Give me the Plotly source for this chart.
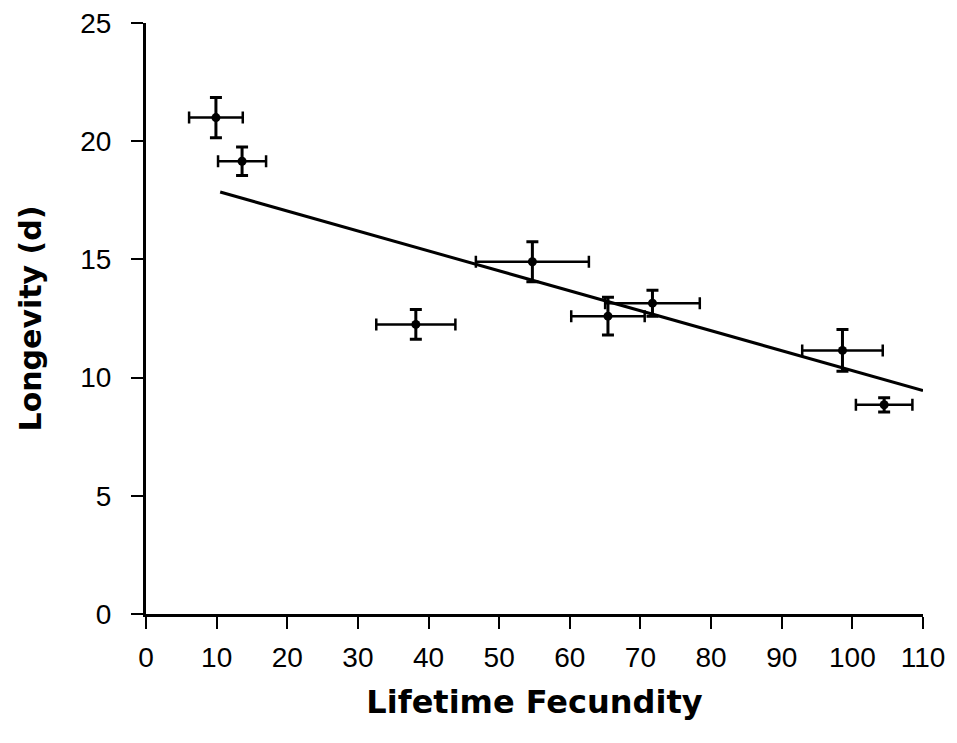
import plotly.graph_objects as go

fecundity = [9.9, 13.6, 38.2, 54.7, 65.4, 71.7, 98.6, 104.5]
fecundity_err = [3.8, 3.4, 5.6, 8.0, 5.2, 6.7, 5.7, 4.0]
longevity = [21.0, 19.15, 12.25, 14.9, 12.6, 13.15, 11.15, 8.85]
longevity_err = [0.85, 0.6, 0.63, 0.85, 0.8, 0.55, 0.88, 0.3]

fit_x = [10.5, 110]
fit_y = [17.85, 9.45]

x_ticks = list(range(0, 111, 10))
y_ticks = [0, 5, 10, 15, 20, 25]

fig = go.Figure()
fig.add_trace(go.Scatter(
    x=fit_x, y=fit_y, mode="lines",
    line=dict(color="black", width=3), showlegend=False, hoverinfo="skip"))
fig.add_trace(go.Scatter(
    x=fecundity, y=longevity, mode="markers",
    marker=dict(color="black", size=9),
    error_x=dict(type="data", array=fecundity_err, color="black", thickness=2.5, width=6),
    error_y=dict(type="data", array=longevity_err, color="black", thickness=3, width=6),
    showlegend=False))

tick_font = dict(family="Liberation Sans, Arial, sans-serif", size=28, color="black")
title_font_x = dict(family="DejaVu Sans, sans-serif", size=32, color="black")
title_font_y = dict(family="DejaVu Sans, sans-serif", size=30, color="black")
fig.update_layout(
    width=957, height=743,
    margin=dict(l=146, r=34, t=23, b=129),
    paper_bgcolor="white", plot_bgcolor="white",
    xaxis=dict(range=[0, 110], tickvals=x_ticks, ticks="outside", ticklen=12,
               tickwidth=2, tickcolor="black", showline=True, linecolor="black",
               linewidth=3, showgrid=False, zeroline=False, tickfont=tick_font,
               ticklabelstandoff=4, automargin=False,
               title=dict(text="<b>Lifetime Fecundity</b>", font=title_font_x,
                          standoff=20)),
    yaxis=dict(range=[0, 25], tickvals=y_ticks, ticks="outside", ticklen=12,
               tickwidth=2, tickcolor="black", showline=True, linecolor="black",
               linewidth=3, showgrid=False, zeroline=False, tickfont=tick_font,
               ticklabelstandoff=14, automargin=False,
               title=dict(text="<b>Longevity (d)</b>", font=title_font_y,
                          standoff=30)),
)
fig.write_html("out.html")
